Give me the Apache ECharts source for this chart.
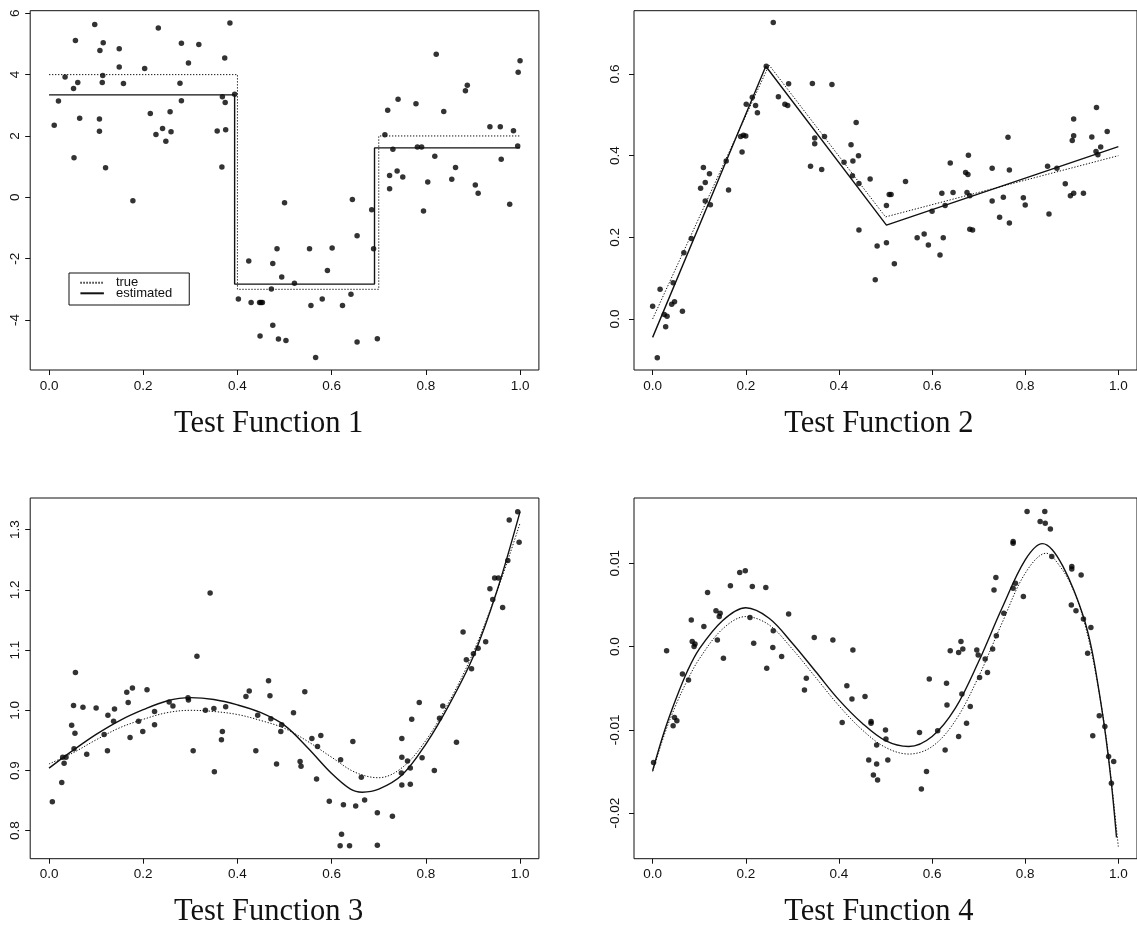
<!DOCTYPE html>
<html><head><meta charset="utf-8">
<script src="https://cdn.jsdelivr.net/npm/echarts@6/dist/echarts.min.js"></script>
<style>html,body{margin:0;padding:0;background:#fff}#c{width:1137px;height:927px}</style>
</head><body><div id="c"></div>
<script>
// ---------- tick values / labels ----------
const xTicks = [0, 0.2, 0.4, 0.6, 0.8, 1.0];
const xTickLabels = ['0.0', '0.2', '0.4', '0.6', '0.8', '1.0'];
const y1Ticks = [-4, -2, 0, 2, 4, 6];
const y1TickLabels = ['-4', '-2', '0', '2', '4', '6'];
const y2Ticks = [0, 0.2, 0.4, 0.6];
const y2TickLabels = ['0.0', '0.2', '0.4', '0.6'];
const y3Ticks = [0.8, 0.9, 1.0, 1.1, 1.2, 1.3];
const y3TickLabels = ['0.8', '0.9', '1.0', '1.1', '1.2', '1.3'];
const y4Ticks = [-0.02, -0.01, 0, 0.01];
const y4TickLabels = ['-0.02', '-0.01', '0.0', '0.01'];
const titles = ['Test Function 1', 'Test Function 2', 'Test Function 3', 'Test Function 4'];
const legendNames = ['true', 'estimated'];

// ---------- Test Function 1 ----------
const f1Points = [
[.011,2.35],[.020,3.14],[.034,3.92],[.052,3.55],[.053,1.29],[.056,5.11],[.061,3.74],[.065,2.58],
[.097,5.63],[.107,2.55],[.107,2.15],[.108,4.79],[.113,3.74],[.115,5.04],[.114,3.97],[.120,0.96],
[.149,4.84],[.149,4.25],[.158,3.71],[.178,-0.11],[.203,4.20],[.215,2.73],[.227,2.05],[.232,5.52],
[.241,2.24],[.248,1.83],[.257,2.79],[.259,2.14],[.278,3.72],[.281,5.02],[.281,3.15],[.296,4.38],
[.318,4.98],[.357,2.16],[.367,0.99],[.368,3.28],[.373,4.54],[.374,3.09],[.375,2.20],[.384,5.68],[.394,3.36],
[.402,-3.32],[.424,-2.08],[.429,-3.43],[.447,-3.43],[.450,-3.43],[.453,-3.43],[.448,-4.52],[.472,-2.99],
[.475,-2.16],[.475,-4.17],[.484,-1.68],[.487,-4.62],[.494,-2.60],[.500,-0.18],[.503,-4.67],[.521,-2.80],
[.553,-1.68],[.556,-3.53],[.566,-5.22],[.580,-3.32],[.591,-2.39],[.601,-1.65],[.623,-3.53],[.641,-3.16],
[.644,-0.07],[.654,-1.25],[.654,-4.72],[.685,-0.41],[.689,-1.68],[.697,-4.61],
[.713,2.04],[.719,2.84],[.723,0.71],[.723,0.28],[.730,1.57],[.739,0.86],[.741,3.20],[.751,0.66],
[.779,3.05],[.782,1.64],[.791,1.64],[.795,-0.45],[.804,0.50],[.819,1.34],[.822,4.66],[.838,2.80],
[.855,0.59],[.863,0.97],[.884,3.47],[.888,3.65],[.905,0.40],[.911,0.13],[.936,2.30],[.958,2.30],
[.960,1.24],[.978,-0.23],[.986,2.17],[.995,1.67],[.996,4.08],[1.0,4.45]
];
const f1True = [[0,4],[0.4,4],[0.4,-3],[0.7,-3],[0.7,2],[1,2]];
const f1Est = [[0,3.34],[0.394,3.34],[0.394,-2.83],[0.691,-2.83],[0.691,1.61],[1,1.61]];

// ---------- Test Function 2 ----------
const f2Points = [
[0.0,0.031],[.010,-0.095],[.016,0.073],[.025,0.011],[.028,-0.019],[.031,0.007],[.041,0.036],[.047,0.042],
[.044,0.089],[.064,0.019],[.067,0.162],[.083,0.197],[.103,0.320],[.109,0.371],[.113,0.334],[.113,0.289],
[.122,0.356],[.124,0.280],[.158,0.387],[.163,0.316],[.189,0.447],[.192,0.409],[.195,0.450],[.200,0.448],
[.201,0.526],[.214,0.543],[.221,0.523],[.225,0.505],[.244,0.619],[.259,0.726],[.270,0.544],[.284,0.526],
[.290,0.523],[.292,0.576],[.339,0.374],[.343,0.577],[.348,0.443],[.348,0.429],[.363,0.366],[.369,0.447],
[.385,0.574],[.411,0.384],[.426,0.427],[.430,0.387],[.429,0.351],[.437,0.481],[.442,0.400],[.443,0.218],
[.443,0.332],[.467,0.343],[.478,0.096],[.482,0.179],[.502,0.187],[.502,0.278],[.508,0.305],[.512,0.305],
[.519,0.135],[.543,0.337],[.568,0.199],[.583,0.208],[.592,0.181],[.600,0.264],[.617,0.157],[.621,0.308],
[.624,0.199],[.628,0.278],[.639,0.382],[.645,0.310],[.672,0.359],[.677,0.354],[.675,0.310],[.678,0.401],
[.681,0.302],[.681,0.220],[.687,0.218],[.729,0.369],[.729,0.289],[.745,0.249],[.753,0.298],[.763,0.445],
[.766,0.235],[.766,0.365],[.796,0.297],[.800,0.279],[.848,0.374],[.851,0.257],[.868,0.369],[.886,0.331],
[.897,0.302],[.904,0.308],[.901,0.437],[.904,0.449],[.904,0.490],[.925,0.308],[.943,0.446],[.953,0.518],
[.952,0.410],[.956,0.402],[.962,0.421],[.976,0.459]
];
const f2True = [[0,0],[0.25,0.622],[0.5,0.25],[1,0.40]];
const f2Est = [[0,-0.045],[0.243,0.619],[0.502,0.23],[1,0.422]];

// ---------- Test Function 3 ----------
const f3Points = [
[.007,0.848],[.027,0.880],[.029,0.922],[.032,0.912],[.036,0.922],[.048,0.975],[.052,1.008],[.053,0.936],
[.055,0.962],[.056,1.063],[.072,1.005],[.080,0.927],[.100,1.004],[.117,0.960],[.124,0.933],[.125,0.992],
[.137,0.982],[.139,1.002],[.165,1.030],[.168,1.013],[.172,0.955],[.177,1.037],[.190,0.982],[.199,0.965],
[.208,1.034],[.224,0.976],[.224,0.998],[.255,1.014],[.263,1.007],[.295,1.021],[.296,1.017],[.306,0.933],
[.314,1.090],[.332,1.000],[.342,1.195],[.350,1.003],[.351,0.898],[.366,0.951],[.368,0.965],[.375,1.006],
[.418,1.023],[.425,1.032],[.439,0.933],[.443,0.992],[.466,1.049],[.469,1.024],[.471,0.986],[.483,0.911],
[.492,0.965],[.494,0.976],[.519,0.996],[.533,0.915],[.535,0.907],[.543,1.031],[.558,0.953],[.568,0.886],
[.570,0.940],[.577,0.958],[.595,0.849],[.619,0.918],[.618,0.775],[.621,0.794],[.625,0.843],[.638,0.775],
[.645,0.948],[.651,0.841],[.663,0.889],[.670,0.851],[.697,0.830],[.697,0.776],[.729,0.824],[.748,0.896],
[.749,0.953],[.749,0.922],[.749,0.876],[.761,0.916],[.767,0.877],[.767,0.904],[.770,0.985],[.786,1.013],
[.792,0.921],[.818,0.900],[.829,0.987],[.836,1.007],[.865,0.947],[.879,1.130],[.886,1.084],[.897,1.069],
[.901,1.094],[.911,1.103],[.927,1.114],[.936,1.202],[.942,1.184],[.946,1.220],[.954,1.220],[.963,1.171],
[.974,1.249],[.977,1.316],[.995,1.330],[.998,1.279]
];
const f3True = [[0,0.911],[0.05,0.929],[0.1,0.951],[0.15,0.971],[0.2,0.985],[0.25,0.996],[0.3,1.0],
[0.35,0.998],[0.4,0.993],[0.45,0.983],[0.5,0.970],[0.55,0.948],[0.6,0.922],[0.65,0.897],[0.7,0.888],
[0.75,0.905],[0.8,0.950],[0.85,1.015],[0.9,1.095],[0.95,1.195],[1.0,1.311]];
const f3Est = [[0,0.904],[0.05,0.933],[0.1,0.960],[0.15,0.983],[0.2,1.001],[0.25,1.0155],[0.3,1.021],
[0.35,1.018],[0.4,1.009],[0.45,0.996],[0.5,0.975],[0.55,0.937],[0.6,0.895],[0.64,0.869],[0.665,0.864],
[0.7,0.869],[0.75,0.893],[0.8,0.944],[0.85,1.010],[0.9,1.088],[0.95,1.196],[1.0,1.330]];

// ---------- Test Function 4 ----------
const f4Points = [
[.002,-0.0139],[.030,-0.0005],[.044,-0.0095],[.047,-0.0085],[.052,-0.0089],[.064,-0.0033],[.077,-0.0040],
[.083,0.0032],[.085,0.0006],[.089,0.0],[.091,0.0003],[.110,0.0024],[.118,0.0065],[.136,0.0043],[.139,0.0008],
[.143,0.0036],[.145,0.0040],[.152,-0.0014],[.167,0.0073],[.187,0.0089],[.199,0.0091],[.209,0.0035],
[.214,0.0072],[.217,0.0004],[.243,0.0071],[.245,-0.0026],[.259,0.0019],[.258,-0.0001],[.277,-0.0012],
[.292,0.0039],[.326,-0.0052],[.330,-0.0038],[.347,0.0011],[.387,0.0008],[.407,-0.0091],[.417,-0.0047],
[.428,-0.0063],[.430,-0.0004],[.456,-0.0060],[.464,-0.0136],[.469,-0.0090],[.469,-0.0092],[.474,-0.0154],
[.481,-0.0141],[.481,-0.0118],[.500,-0.0100],[.501,-0.0111],[.505,-0.0136],[.483,-0.0160],[.573,-0.0103],
[.577,-0.0171],[.588,-0.0150],[.594,-0.0039],[.612,-0.0101],[.628,-0.0124],[.631,-0.0044],[.632,-0.0070],
[.639,-0.0005],[.657,-0.0007],[.662,0.0006],[.657,-0.0108],[.664,-0.0057],[.666,-0.0003],[.674,-0.0092],
[.682,-0.0072],[.696,-0.0004],[.699,-0.0010],[.702,-0.0037],[.714,-0.0015],[.719,-0.0031],[.730,-0.0003],
[.733,0.0068],[.737,0.0083],[.738,0.0013],[.754,0.0040],[.774,0.0070],[.774,0.0126],[.774,0.0124],
[.779,0.0076],[.796,0.0060],[.804,0.0162],[.832,0.0150],[.842,0.0162],[.843,0.0148],[.854,0.0141],
[.857,0.0108],[.899,0.0050],[.900,0.0096],[.900,0.0093],[.909,0.0043],[.920,0.0086],[.925,0.0033],
[.934,-0.0008],[.941,0.0023],[.945,-0.0107],[.959,-0.0083],[.971,-0.0096],[.979,-0.0132],[.985,-0.0164],
[.990,-0.0138]
];
const f4True = [[0,-0.0150],[0.025,-0.0106],[0.05,-0.0070],[0.075,-0.0040],[0.1,-0.0015],[0.15,0.0021],
[0.2,0.0036],[0.25,0.0026],[0.3,-0.0003],[0.35,-0.0037],[0.4,-0.0071],[0.45,-0.0100],[0.5,-0.0121],
[0.55,-0.0129],[0.6,-0.0120],[0.65,-0.0089],[0.7,-0.0036],[0.75,0.0028],[0.8,0.0088],[0.845,0.0112],
[0.875,0.0096],[0.9,0.0072],[0.925,0.0033],[0.95,-0.0028],[0.975,-0.0115],[1.0,-0.0241]];
const f4Est = [[0,-0.0149],[0.025,-0.0102],[0.05,-0.0063],[0.075,-0.0029],[0.1,-0.0003],[0.15,0.0031],
[0.2,0.00465],[0.25,0.0034],[0.3,0.0004],[0.35,-0.0030],[0.4,-0.0064],[0.45,-0.0092],[0.5,-0.0113],
[0.55,-0.0120],[0.6,-0.0108],[0.65,-0.0074],[0.7,-0.0018],[0.75,0.0046],[0.8,0.0104],[0.837,0.01235],
[0.858,0.01163],[0.881,0.00963],[0.904,0.00682],[0.927,0.00321],[0.943,-0.0004],[0.958,-0.0052],
[0.973,-0.0108],[0.985,-0.0164],[0.996,-0.0229]];

// ---------- assemble ----------
const panelData = [
  {pts: f1Points, tru: f1True, est: f1Est, yT: y1Ticks, yL: y1TickLabels, smooth: false},
  {pts: f2Points, tru: f2True, est: f2Est, yT: y2Ticks, yL: y2TickLabels, smooth: false},
  {pts: f3Points, tru: f3True, est: f3Est, yT: y3Ticks, yL: y3TickLabels, smooth: 0.35},
  {pts: f4Points, tru: f4True, est: f4Est, yT: y4Ticks, yL: y4TickLabels, smooth: 0.35}
];
// layout (pixels / axis extents)
const layout = [
  {left: 30.2, top: 10.7, width: 508.7, height: 359.3, yMin: -5.631, yMax: 6.084, yMargin: 8, tx: 268.7, ty: 424},
  {left: 634, top: 10.7, width: 509.8, height: 359.3, yMin: -0.1249, yMax: 0.755, yMargin: 11.5, tx: 878.8, ty: 424},
  {left: 30.2, top: 498, width: 508.7, height: 360.7, yMin: 0.7535, yMax: 1.3527, yMargin: 8, tx: 268.7, ty: 912},
  {left: 634, top: 498, width: 509.8, height: 360.7, yMin: -0.02546, yMax: 0.01783, yMargin: 11.5, tx: 878.8, ty: 912}
];
const INK = '#111';
function lookup(ticks, labels) {
  return function (v) {
    let best = 0, bd = Infinity;
    ticks.forEach((t, i) => { const d = Math.abs(t - v); if (d < bd) { bd = d; best = i; } });
    return labels[best];
  };
}
const grid = [], xAxis = [], yAxis = [], series = [], title = [];
panelData.forEach((p, i) => {
  const L = layout[i];
  grid.push({left: L.left, top: L.top, width: L.width, height: L.height, show: true,
    borderColor: INK, borderWidth: 1, backgroundColor: 'transparent'});
  xAxis.push({type: 'value', gridIndex: i, min: -0.04, max: 1.04, position: 'bottom',
    axisLine: {show: false, onZero: false}, splitLine: {show: false},
    axisTick: {show: true, inside: false, length: 5, customValues: xTicks, lineStyle: {color: INK, width: 1}},
    axisLabel: {customValues: xTicks, formatter: lookup(xTicks, xTickLabels), margin: 9,
      color: INK, fontSize: 13.5, fontFamily: 'Liberation Sans, Arial, sans-serif'}});
  yAxis.push({type: 'value', gridIndex: i, min: L.yMin, max: L.yMax, position: 'left',
    axisLine: {show: false, onZero: false}, splitLine: {show: false},
    axisTick: {show: true, inside: false, length: 5, customValues: p.yT, lineStyle: {color: INK, width: 1}},
    axisLabel: {customValues: p.yT, formatter: lookup(p.yT, p.yL), margin: L.yMargin, rotate: 90,
      color: INK, fontSize: 13.5, fontFamily: 'Liberation Sans, Arial, sans-serif'}});
  series.push({type: 'scatter', name: 'data' + (i + 1), xAxisIndex: i, yAxisIndex: i, data: p.pts,
    symbol: 'circle', symbolSize: 5.5, itemStyle: {color: '#000'}, silent: true, z: 2});
  series.push({type: 'line', name: legendNames[0], xAxisIndex: i, yAxisIndex: i, data: p.tru,
    smooth: p.smooth, symbol: 'none', showSymbol: false, clip: true, silent: true, z: 3,
    itemStyle: {color: INK}, lineStyle: {color: INK, width: 1, type: [1.3, 1.7]}});
  series.push({type: 'line', name: legendNames[1], xAxisIndex: i, yAxisIndex: i, data: p.est,
    smooth: p.smooth, symbol: 'none', showSymbol: false, clip: true, silent: true, z: 4,
    itemStyle: {color: INK}, lineStyle: {color: INK, width: 1.4, type: 'solid'}});
  title.push({text: titles[i], left: L.tx, top: L.ty, padding: 0, textAlign: 'center', textVerticalAlign: 'middle',
    textStyle: {fontFamily: 'Liberation Serif, Times New Roman, serif', fontWeight: 'normal', fontSize: 30.5, color: INK}});
});

const chart = echarts.init(document.getElementById('c'), null, {renderer: 'canvas'});
chart.setOption({
  animation: false,
  backgroundColor: '#fff',
  title: title,
  legend: {data: legendNames, orient: 'vertical', left: 69, top: 273, selectedMode: false,
    borderColor: INK, borderWidth: 1, padding: [3.2, 17, 5.2, 10.4],
    itemWidth: 23.5, itemHeight: 10, itemGap: -2.4, backgroundColor: '#fff',
    itemStyle: {opacity: 0},
    textStyle: {fontSize: 13, color: INK, fontFamily: 'Liberation Sans, Arial, sans-serif', padding: [0, 0, 0, 7]}},
  grid: grid, xAxis: xAxis, yAxis: yAxis, series: series
});
</script></body></html>
